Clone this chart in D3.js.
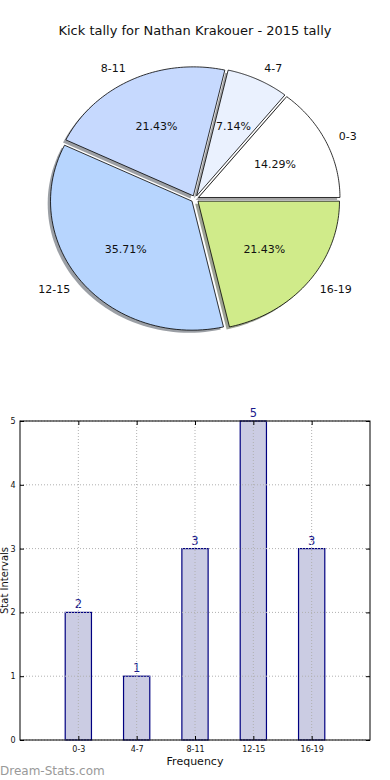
<!DOCTYPE html>
<html>
<head>
<meta charset="utf-8">
<script src="https://cdn.jsdelivr.net/npm/d3@7"></script>
<style>
  body { margin: 0; background: #fff; }
  svg { display: block; font-family: 'DejaVu Sans', sans-serif; }
</style>
</head>
<body>
<svg width="390" height="780"></svg>
<script>
var svg = d3.select('svg')

var categories = ['0-3', '4-7', '8-11', '12-15', '16-19']
var counts = [2, 1, 3, 5, 3]
var sliceColors = ['#ffffff', '#eaf1fe', '#c6d9fe', '#b7d5fe', '#d0eb8a']
var yTicks = [0, 1, 2, 3, 4, 5]

// Title
svg.append('text')
  .attr('x', 195).attr('y', 35)
  .attr('text-anchor', 'middle')
  .attr('font-size', 13)
  .attr('fill', '#111')
  .text('Kick tally for Nathan Krakouer - 2015 tally')

// ------------------------------------------------
// Pie (matplotlib style: starts at 0 rad, counterclockwise, elliptical axes)

var cx = 195, cy = 199, rx = 141.5, ry = 129
var explode = 0.027
var total = d3.sum(counts)

var angle = d3.scaleLinear().domain([0, total]).range([0, 2 * Math.PI])
var pieData = []
var acc = 0
counts.forEach((c, i) => {
  pieData.push({ cat: categories[i], value: c, a0: angle(acc), a1: angle(acc + c), color: sliceColors[i] })
  acc += c
})

function wedgePath(d, ox, oy) {
  var path = d3.path()
  var x0 = cx + ox, y0 = cy + oy
  path.moveTo(x0, y0)
  var n = 60
  for (var k = 0; k <= n; k++) {
    var t = d.a0 + (d.a1 - d.a0) * k / n
    path.lineTo(x0 + rx * Math.cos(t), y0 - ry * Math.sin(t))
  }
  path.closePath()
  return path.toString()
}

function darker(c) {
  var col = d3.rgb(c)
  return d3.rgb(col.r * 0.3, col.g * 0.3, col.b * 0.3).toString()
}

var pieG = svg.append('g')
pieData.forEach(d => {
  var m = (d.a0 + d.a1) / 2
  d.ox = explode * rx * Math.cos(m)
  d.oy = -explode * ry * Math.sin(m)
  d.mid = m
})

// shadows first
pieG.selectAll('.shadow').data(pieData).enter().append('path')
  .attr('class', 'shadow')
  .attr('d', d => wedgePath(d, d.ox - 0.02 * rx, d.oy + 0.02 * ry))
  .attr('fill', d => darker(d.color))
  .attr('opacity', 0.5)

pieG.selectAll('.wedge').data(pieData).enter().append('path')
  .attr('class', 'wedge')
  .attr('d', d => wedgePath(d, d.ox, d.oy))
  .attr('fill', d => d.color)
  .attr('stroke', '#000')
  .attr('stroke-width', 0.8)
  .attr('stroke-linejoin', 'round')

pieG.selectAll('.plabel').data(pieData).enter().append('text')
  .attr('class', 'plabel')
  .attr('x', d => cx + d.ox + 1.1 * rx * Math.cos(d.mid))
  .attr('y', d => cy + d.oy - 1.1 * ry * Math.sin(d.mid))
  .attr('dy', '0.35em')
  .attr('text-anchor', d => Math.cos(d.mid) > 0 ? 'start' : 'end')
  .attr('font-size', 11)
  .attr('fill', '#111')
  .text(d => d.cat)

pieG.selectAll('.pct').data(pieData).enter().append('text')
  .attr('class', 'pct')
  .attr('x', d => cx + d.ox + 0.6 * rx * Math.cos(d.mid))
  .attr('y', d => cy + d.oy - 0.6 * ry * Math.sin(d.mid))
  .attr('dy', '0.35em')
  .attr('text-anchor', 'middle')
  .attr('font-size', 11)
  .attr('fill', '#111')
  .text(d => (d.value / total * 100).toFixed(2) + '%')

// ------------------------------------------------
// Bar chart

var plotL = 20, plotR = 370, plotT = 421, plotB = 740

var x = d3.scaleLinear().domain([-1, categories.length]).range([plotL, plotR])
var y = d3.scaleLinear().domain([0, 5]).range([plotB, plotT])
var barW = 0.45 * (x(1) - x(0))

var barG = svg.append('g')

barG.selectAll('.bar').data(counts).enter().append('rect')
  .attr('class', 'bar')
  .attr('x', (d, i) => x(i) - barW / 2)
  .attr('y', d => y(d))
  .attr('width', barW)
  .attr('height', d => y(0) - y(d))
  .attr('fill', '#cbcce3')
  .attr('stroke', '#000080')
  .attr('stroke-width', 1.2)

// grid on top (dotted)
var grid = svg.append('g')
  .attr('stroke', '#b0b0b0')
  .attr('stroke-width', 1)
  .attr('stroke-dasharray', '1,2')
grid.selectAll('.gx').data(categories).enter().append('line')
  .attr('x1', (d, i) => x(i)).attr('x2', (d, i) => x(i))
  .attr('y1', plotT).attr('y2', plotB)
grid.selectAll('.gy').data(yTicks).enter().append('line')
  .attr('x1', plotL).attr('x2', plotR)
  .attr('y1', d => y(d)).attr('y2', d => y(d))

// value labels
barG.selectAll('.val').data(counts).enter().append('text')
  .attr('x', (d, i) => x(i))
  .attr('y', d => y(d) - 4)
  .attr('text-anchor', 'middle')
  .attr('font-size', 11.5)
  .attr('fill', '#1a1a8c')
  .text(d => d)

// frame
svg.append('rect')
  .attr('x', plotL).attr('y', plotT)
  .attr('width', plotR - plotL).attr('height', plotB - plotT)
  .attr('fill', 'none')
  .attr('stroke', '#000')
  .attr('stroke-width', 1)

// axes with inward ticks
var yAxis = d3.axisLeft(y).tickValues(yTicks).tickFormat(d3.format('d')).tickSize(-4).tickPadding(4.5)
svg.append('g').attr('transform', 'translate(' + plotL + ',0)').call(yAxis)
var yAxisR = d3.axisRight(y).tickValues(yTicks).tickSize(-4).tickFormat('')
svg.append('g').attr('transform', 'translate(' + plotR + ',0)').call(yAxisR)

var xAxis = d3.axisBottom(x).tickValues(d3.range(categories.length))
  .tickFormat(i => categories[i]).tickSize(-4).tickPadding(6)
svg.append('g').attr('transform', 'translate(0,' + plotB + ')').call(xAxis)
var xAxisT = d3.axisTop(x).tickValues(d3.range(categories.length)).tickSize(-4).tickFormat('')
svg.append('g').attr('transform', 'translate(0,' + plotT + ')').call(xAxisT)

svg.selectAll('.domain').remove()
svg.selectAll('.tick line').attr('stroke', '#000')
svg.selectAll('.tick text').attr('font-size', 8).attr('fill', '#111')
  .attr('font-family', "'DejaVu Sans', sans-serif")

svg.append('text')
  .attr('x', (plotL + plotR) / 2).attr('y', 765)
  .attr('text-anchor', 'middle')
  .attr('font-size', 11)
  .attr('fill', '#111')
  .text('Frequency')

svg.append('text')
  .attr('transform', 'translate(8,' + (plotT + plotB) / 2 + ') rotate(-90)')
  .attr('text-anchor', 'middle')
  .attr('font-size', 10)
  .attr('fill', '#111')
  .text('Stat Intervals')

svg.append('text')
  .attr('x', 0).attr('y', 775)
  .attr('font-size', 12)
  .attr('fill', '#999')
  .text('Dream-Stats.com')
</script>
</body>
</html>
